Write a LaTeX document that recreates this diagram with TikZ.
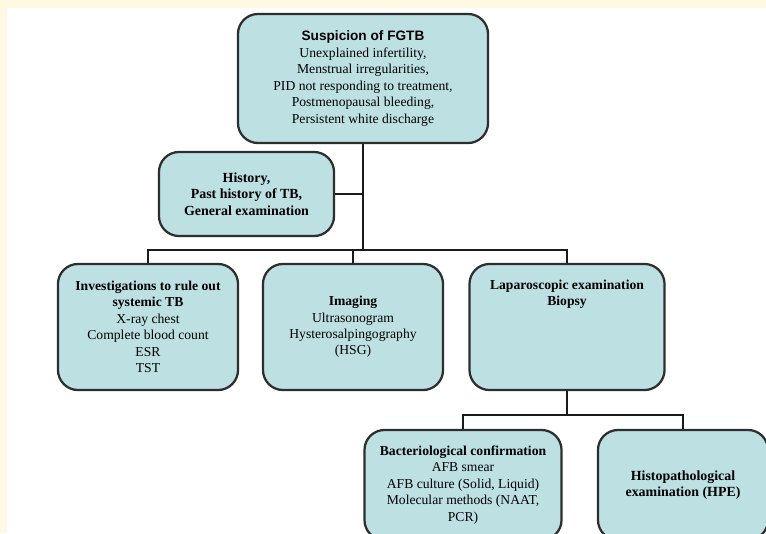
\documentclass[tikz,border=0pt]{standalone}
\usepackage{fontspec}
\setmainfont{Liberation Serif}
\setsansfont{Liberation Sans}
\usepackage{tikz}
\usetikzlibrary{positioning}
\definecolor{pageBg}{HTML}{FFF9E3}
\definecolor{boxFill}{HTML}{BDE0E3}
\definecolor{boxB}{HTML}{2E2E2E}
\definecolor{linkC}{HTML}{1A1A1A}

\begin{document}
\begin{tikzpicture}[x=0.025cm, y=-0.025cm, box/.style={draw=boxB, fill=boxFill, line width=1.6pt, rounded corners=0.5cm, align=center, font=\fontsize{9.7}{11.7}\selectfont, inner sep=2pt}, link/.style={draw=linkC, line width=1.5pt}]
\useasboundingbox (0,0) rectangle (766,533);
\clip (0,0) rectangle (766,533);
\fill[pageBg] (0,0) rectangle (766,533);
\fill[white] (7,8) rectangle (766,533);
\coordinate (busA) at (363,250);
\coordinate (busB) at (567,415);
\node[box, minimum width=6.25cm, minimum height=3.225cm] (susp) at (363,78.5) {\textsf{\textbf{Suspicion of FGTB}}\\Unexplained infertility,\\Menstrual irregularities,\\PID not responding to treatment,\\Postmenopausal bleeding,\\Persistent white discharge};
\node[box, minimum width=4.375cm, minimum height=2.1cm, font=\fontsize{9.9}{11.7}\selectfont\bfseries] (hist) at (246.5,194) {History,\\Past history of TB,\\General examination};
\node[box, minimum width=4.5cm, minimum height=3.15cm] (inv) at (148,327) {\textbf{Investigations to rule out}\\\textbf{systemic TB}\\X-ray chest\\Complete blood count\\ESR\\TST};
\node[box, minimum width=4.5cm, minimum height=3.15cm] (img) at (353,327) {\textbf{Imaging}\\Ultrasonogram\\Hysterosalpingography\\(HSG)};
\node[box, minimum width=4.875cm, minimum height=3.15cm, label={[anchor=north, yshift=-0.3cm, align=center, font=\fontsize{9.7}{11.7}\selectfont\bfseries]north:Laparoscopic examination\\Biopsy}] (lap) at (567,327) {};
\node[box, minimum width=4.925cm, minimum height=2.75cm] (bact) at (463,485) {\textbf{Bacteriological confirmation}\\AFB smear\\AFB culture (Solid, Liquid)\\Molecular methods (NAAT,\\PCR)};
\node[box, minimum width=4.25cm, minimum height=2.75cm, font=\fontsize{9.9}{11.7}\selectfont\bfseries] (hpe) at (683,485) {Histopathological\\examination (HPE)};
\draw[link] (susp.south) -- (busA);
\draw[link] (hist.east) -- (hist.east -| susp.south);
\draw[link] (inv.north) |- (busA) -| (lap.north);
\draw[link] (img.north) |- (busA);
\draw[link] (lap.south) -- (busB);
\draw[link] (bact.north) |- (busB) -| (hpe.north);
\end{tikzpicture}
\end{document}
